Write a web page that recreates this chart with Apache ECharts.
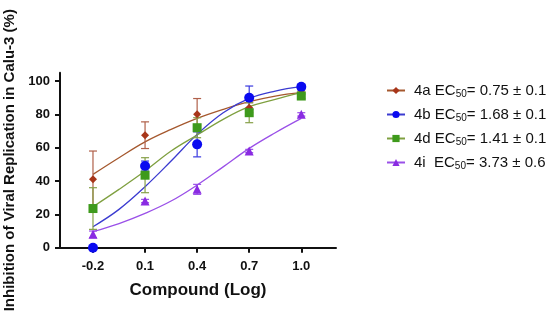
<!DOCTYPE html>
<html><head><meta charset="utf-8">
<script src="https://cdn.jsdelivr.net/npm/echarts@6/dist/echarts.min.js"></script>
<style>html,body{margin:0;padding:0;background:#fff}#c{width:550px;height:320px}</style>
</head><body><div id="c"></div>
<script>
// x positions (log concentration)
const doses = [-0.2, 0.1, 0.4, 0.7, 1.0];
const xTicks = [-0.2, 0.1, 0.4, 0.7, 1.0];
const yTicks = [0, 20, 40, 60, 80, 100];

// measured means
const mean4a = [41, 67.5, 80, 84, 93];
const mean4b = [0, 49, 62, 90, 96.5];
const mean4d = [23.5, 43.5, 72, 81, 91];
const mean4i = [8, 28, 35, 58, 80];

// error (±)
const err4a = [17, 8, 9.5, 3, 1];
const err4b = [0, 3, 7.5, 7, 1.5];
const err4d = [12.5, 10.5, 6, 6, 1.5];
const err4i = [2, 1, 3, 1, 1];

// fitted curve
const curveX = [-0.2, -0.05, 0.1, 0.25, 0.4, 0.55, 0.7, 0.85, 1.0];
const fit4a = [44, 54, 63.5, 71, 77.6, 83, 87.6, 91, 93];
const fit4b = [12.6, 23, 36.6, 52, 68, 81, 89.6, 94, 96.6];
const fit4d = [24.6, 35, 46, 58, 67.6, 77, 84.6, 89, 93];
const fit4i = [9.6, 14.5, 20.6, 28, 37.6, 48.5, 59.6, 69, 77.6];

const labels = {
  '4a': '{t|4a EC}{s|50}{t|= 0.75 ± 0.1}',
  '4b': '{t|4b EC}{s|50}{t|= 1.68 ± 0.1}',
  '4d': '{t|4d EC}{s|50}{t|= 1.41 ± 0.1}',
  '4i': '{t|4i  EC}{s|50}{t|= 3.73 ± 0.6}'
};

const defs = [
  {name:'4a', mean:mean4a, err:err4a, fit:fit4a, marker:'#A8361A', line:'#A5582E', ebar:'#B0604A', symbol:'diamond', size:8},
  {name:'4b', mean:mean4b, err:err4b, fit:fit4b, marker:'#0A0AF0', line:'#3B3BD0', ebar:'#3A3AE0', symbol:'circle', size:10},
  {name:'4d', mean:mean4d, err:err4d, fit:fit4d, marker:'#3E9A1C', line:'#7FA040', ebar:'#86A048', symbol:'rect', size:9},
  {name:'4i', mean:mean4i, err:err4i, fit:fit4i, marker:'#8A2BE2', line:'#9A50E8', ebar:'#9A50E8', symbol:'triangle', size:9}
];

const series = [];
defs.forEach(d => {
  series.push({
    name: d.name, type: 'line', smooth: 0.4, symbol: d.symbol, showSymbol: false,
    data: curveX.map((x, i) => [x, d.fit[i]]),
    lineStyle: {color: d.line, width: 1.3},
    itemStyle: {color: d.marker},
    z: 2, silent: true
  });
});
defs.forEach(d => {
  series.push({
    name: d.name + ' err', type: 'custom',
    data: doses.map((x, i) => [x, d.mean[i] - d.err[i], d.mean[i] + d.err[i]]),
    renderItem: function (params, api) {
      const lo = api.coord([api.value(0), api.value(1)]);
      const hi = api.coord([api.value(0), api.value(2)]);
      const w = 4;
      const st = {stroke: d.ebar, lineWidth: 1.2};
      return {type: 'group', children: [
        {type: 'line', shape: {x1: lo[0], y1: lo[1], x2: hi[0], y2: hi[1]}, style: st},
        {type: 'line', shape: {x1: hi[0]-w, y1: hi[1], x2: hi[0]+w, y2: hi[1]}, style: st},
        {type: 'line', shape: {x1: lo[0]-w, y1: lo[1], x2: lo[0]+w, y2: lo[1]}, style: st}
      ]};
    },
    z: 3, silent: true
  });
});
defs.forEach(d => {
  series.push({
    name: d.name + ' pts', type: 'scatter', symbol: d.symbol, symbolSize: d.size,
    data: doses.map((x, i) => [x, d.mean[i]]),
    itemStyle: {color: d.marker, opacity: 1},
    z: 4, silent: true
  });
});

const chart = echarts.init(document.getElementById('c'), null, {renderer: 'canvas'});
chart.setOption({
  animation: false,
  backgroundColor: '#fff',
  textStyle: {fontFamily: 'Liberation Sans, Arial, sans-serif'},
  grid: {left: 60, right: 214, top: 72.7, bottom: 72.3, containLabel: false, outerBoundsMode: 'none'},
  xAxis: {
    type: 'value', min: -0.39, max: 1.2,
    name: 'Compound (Log)', nameLocation: 'middle', nameGap: 34,
    nameTextStyle: {fontSize: 17, fontWeight: 'bold', color: '#111', fontFamily: 'Liberation Sans'},
    axisLine: {onZero: false, lineStyle: {color: '#111', width: 2}},
    axisTick: {show: true, customValues: xTicks, length: 5, lineStyle: {color: '#111', width: 2}},
    axisLabel: {customValues: xTicks, margin: 12, fontSize: 13, fontWeight: 'bold', color: '#111',
      fontFamily: 'Liberation Sans', formatter: v => v.toFixed(1)},
    splitLine: {show: false}
  },
  yAxis: {
    type: 'value', min: 0, max: 105,
    name: 'Inhibition of Viral Replication in Calu-3 (%)', nameLocation: 'middle', nameGap: 40,
    nameTextStyle: {fontSize: 15, fontWeight: 'bold', color: '#111', fontFamily: 'Liberation Sans'},
    axisLine: {show: true, onZero: false, lineStyle: {color: '#111', width: 2}},
    axisTick: {show: true, customValues: yTicks, length: 5, lineStyle: {color: '#111', width: 2}},
    axisLabel: {customValues: yTicks, margin: 10, fontSize: 13, fontWeight: 'bold', color: '#111',
      fontFamily: 'Liberation Sans'},
    splitLine: {show: false}
  },
  legend: {
    orient: 'vertical', left: 381, top: 78,
    data: ['4a', '4b', '4d', '4i'],
    itemWidth: 18, itemHeight: 9, itemGap: 7.5,
    selectedMode: false,
    formatter: name => labels[name],
    textStyle: {
      fontFamily: 'Liberation Sans', color: '#111', padding: [0, 0, 0, 4],
      rich: {
        t: {fontSize: 15, color: '#111', fontFamily: 'Liberation Sans', lineHeight: 18, verticalAlign: 'middle'},
        s: {fontSize: 10, color: '#111', fontFamily: 'Liberation Sans', lineHeight: 10, verticalAlign: 'bottom'}
      }
    }
  },
  series: series
});
</script>
</body></html>
